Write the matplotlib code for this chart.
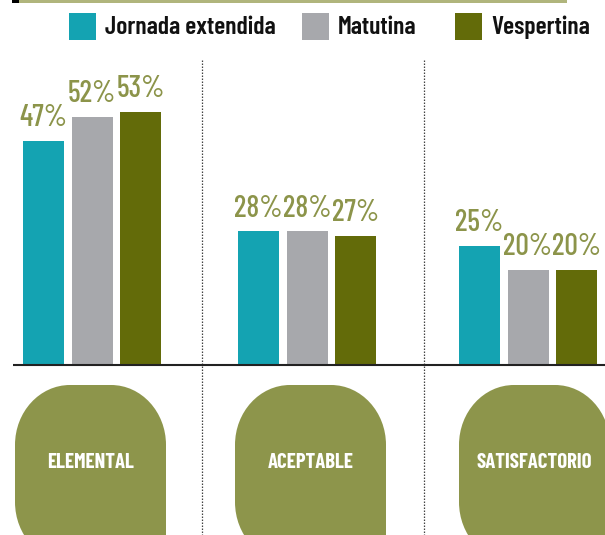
import matplotlib
matplotlib.use("Agg")
import matplotlib.pyplot as plt
from matplotlib.path import Path
from matplotlib.patches import PathPatch, Rectangle
from matplotlib import font_manager

# ---------------- data ----------------
categories = ["ELEMENTAL", "ACEPTABLE", "SATISFACTORIO"]
series_names = ["Jornada extendida", "Matutina", "Vespertina"]
jornada_extendida = [47, 28, 25]
matutina = [52, 28, 20]
vespertina = [53, 27, 20]
series_values = [jornada_extendida, matutina, vespertina]

# ---------------- style ----------------
colors = ["#14a3b2", "#a7a8ac", "#636b09"]
label_color = "#8c944a"
shape_color = "#8d954b"
top_line_color = "#b0b57c"

names = {f.name for f in font_manager.fontManager.ttflist}
cond = "Barlow Condensed" if "Barlow Condensed" in names else "DejaVu Sans"
FONT = [cond, "DejaVu Sans"]

W, H = 605, 535
fig = plt.figure(figsize=(W / 100, H / 100), dpi=100)

# overlay axes in pixel coordinates (y downwards)
deco = fig.add_axes([0, 0, 1, 1])
deco.set_xlim(0, W)
deco.set_ylim(H, 0)
deco.axis("off")

# bar axes: y in percent, baseline at pixel row 365
px_per_pct = 4.77
base_px = 365
ax = fig.add_axes([0, 0, 1, 1])
ax.set_xlim(0, W)
ax.set_ylim(-(H - base_px) / px_per_pct, base_px / px_per_pct)
ax.axis("off")
ax.patch.set_alpha(0)

group_centers = [92, 307, 528]
offsets = [-48.5, 0, 48.5]
bar_w = 41

for si, vals in enumerate(series_values):
    xs = [gc + offsets[si] for gc in group_centers]
    ax.bar(xs, vals, width=bar_w, color=colors[si], zorder=2)
    for x, v in zip(xs, vals):
        ax.text(x, v + 3.1, f"{v}%", ha="center", va="baseline",
                fontsize=21.5, fontweight=500, color=label_color, family=FONT)

# baseline
ax.plot([13, W], [0, 0], color="#222222", lw=1.5, zorder=3, solid_capstyle="butt")

# dotted separators
for xd in [201.5, 424]:
    deco.plot([xd, xd], [60, H], color="#444444", lw=0.9, linestyle=(0, (1.2, 1.2)))

# top line
deco.add_patch(Rectangle((19, 0), 548, 3, color=top_line_color, lw=0))
deco.add_patch(Rectangle((12, 0), 7, 3, color="black", lw=0))

# legend
legend_x = [69, 302, 455]
for name, col, lx in zip(series_names, colors, legend_x):
    deco.add_patch(Rectangle((lx, 13), 27, 27, color=col, lw=0))
    deco.text(lx + 36, 27.5, name, ha="left", va="center", fontsize=18.5,
              fontweight=600, color="#111111", family=FONT)


def leaf_path(x0, y0, x1, y1, rx, ry):
    k = 0.5523
    verts = [
        (x0 + rx, y0),
        (x1 - rx, y0),
        (x1 - rx + k * rx, y0), (x1, y0 + ry - k * ry), (x1, y0 + ry),
        (x1, y1),
        (x0 + rx, y1),
        (x0 + rx - k * rx, y1), (x0, y1 - ry + k * ry), (x0, y1 - ry),
        (x0, y0 + ry),
        (x0, y0 + ry - k * ry), (x0 + rx - k * rx, y0), (x0 + rx, y0),
        (x0 + rx, y0),
    ]
    codes = [Path.MOVETO, Path.LINETO,
             Path.CURVE4, Path.CURVE4, Path.CURVE4,
             Path.LINETO, Path.LINETO,
             Path.CURVE4, Path.CURVE4, Path.CURVE4,
             Path.LINETO,
             Path.CURVE4, Path.CURVE4, Path.CURVE4,
             Path.CLOSEPOLY]
    return Path(verts, codes)


shape_left = [15, 235, 459]
shape_w = 151
for cat, sx in zip(categories, shape_left):
    p = leaf_path(sx, 385, sx + shape_w, 562, 55, 60)
    deco.add_patch(PathPatch(p, facecolor=shape_color, edgecolor="none"))
    deco.text(sx + shape_w / 2, 462, cat, ha="center", va="center",
              fontsize=15, fontweight="bold", color="white", family=FONT)

fig.savefig("out.png", dpi=100)
